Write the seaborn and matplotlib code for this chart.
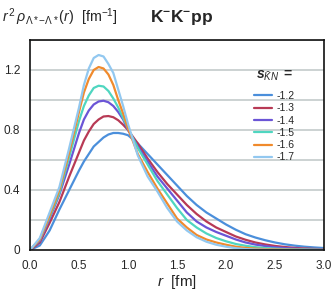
import numpy as np
import pandas as pd
import matplotlib
matplotlib.use("Agg")
import matplotlib.pyplot as plt
import seaborn as sns

r = [0.0, 0.1, 0.2, 0.3, 0.4, 0.5, 0.55, 0.6, 0.65, 0.7, 0.75, 0.8, 0.85, 0.9, 0.95,
     1.0, 1.1, 1.2, 1.3, 1.4, 1.5, 1.6, 1.7, 1.8, 1.9, 2.0, 2.1, 2.2, 2.3, 2.4, 2.5,
     2.6, 2.7, 2.8, 2.9, 3.0]

s_12 = [0.0, 0.03, 0.13, 0.27, 0.40, 0.53, 0.59, 0.64, 0.69, 0.72, 0.75, 0.77, 0.78, 0.78, 0.775,
        0.765, 0.71, 0.64, 0.57, 0.50, 0.43, 0.36, 0.30, 0.25, 0.21, 0.17, 0.135, 0.105, 0.083, 0.065, 0.05,
        0.038, 0.029, 0.022, 0.017, 0.013]
s_13 = [0.0, 0.05, 0.18, 0.32, 0.49, 0.65, 0.73, 0.79, 0.84, 0.87, 0.89, 0.893, 0.885, 0.865, 0.835,
        0.80, 0.71, 0.61, 0.52, 0.44, 0.37, 0.30, 0.24, 0.19, 0.15, 0.12, 0.09, 0.068, 0.05, 0.037, 0.027,
        0.02, 0.014, 0.01, 0.007, 0.005]
s_14 = [0.0, 0.06, 0.21, 0.37, 0.57, 0.78, 0.87, 0.93, 0.97, 0.99, 0.995, 0.985, 0.96, 0.92, 0.87,
        0.80, 0.69, 0.59, 0.49, 0.41, 0.33, 0.25, 0.19, 0.15, 0.12, 0.095, 0.07, 0.05, 0.036, 0.026, 0.018,
        0.013, 0.009, 0.006, 0.004, 0.003]
s_15 = [0.0, 0.07, 0.22, 0.38, 0.62, 0.86, 0.96, 1.03, 1.08, 1.095, 1.09, 1.06, 1.01, 0.95, 0.88,
        0.81, 0.68, 0.57, 0.46, 0.37, 0.28, 0.20, 0.15, 0.11, 0.08, 0.058, 0.04, 0.028, 0.019, 0.013, 0.009,
        0.006, 0.004, 0.003, 0.002, 0.001]
s_16 = [0.0, 0.07, 0.23, 0.40, 0.65, 0.92, 1.05, 1.14, 1.20, 1.22, 1.21, 1.17, 1.10, 1.00, 0.91,
        0.81, 0.64, 0.52, 0.41, 0.31, 0.21, 0.15, 0.10, 0.07, 0.05, 0.035, 0.022, 0.014, 0.009, 0.006, 0.004,
        0.003, 0.002, 0.001, 0.001, 0.0]
s_17 = [0.0, 0.08, 0.25, 0.42, 0.68, 0.95, 1.10, 1.21, 1.28, 1.30, 1.29, 1.24, 1.18, 1.07, 0.96,
        0.84, 0.63, 0.49, 0.39, 0.28, 0.19, 0.13, 0.085, 0.055, 0.035, 0.022, 0.012, 0.006, 0.003, 0.002, 0.001,
        0.001, 0.0, 0.0, 0.0, 0.0]

labels = ["-1.2", "-1.3", "-1.4", "-1.5", "-1.6", "-1.7"]
colors = ["#4b8fdb", "#b83a55", "#6b55d6", "#4fd6c0", "#f08a2c", "#92c8f0"]

series = [s_12, s_13, s_14, s_15, s_16, s_17]
df = pd.concat([pd.DataFrame({"r": r, "val": s, "s": lab}) for s, lab in zip(series, labels)])

sns.set_theme(style="white")
plt.rcParams['font.family'] = ['Liberation Sans', 'DejaVu Sans']
plt.rcParams['mathtext.fontset'] = 'custom'
plt.rcParams['mathtext.rm'] = 'Liberation Sans'
plt.rcParams['mathtext.it'] = 'Liberation Sans:italic'
plt.rcParams['mathtext.bf'] = 'Liberation Sans:bold'
plt.rcParams['mathtext.bfit'] = 'Liberation Sans:bold:italic'

fig = plt.figure(figsize=(3.32, 2.94), dpi=100)
ax = fig.add_axes([0.0904, 0.1497, 0.8856, 0.7143])

# horizontal grid every 0.2
for g in np.arange(0.2, 1.41, 0.2):
    ax.axhline(g, color="#c3cbcb", lw=1.2, zorder=0)

sns.lineplot(data=df, x="r", y="val", hue="s", palette=dict(zip(labels, colors)),
             lw=1.6, ax=ax, legend=False)

ax.set_xlim(0, 3.0)
ax.set_ylim(0, 1.4)
ax.set_xticks([0, 0.5, 1.0, 1.5, 2.0, 2.5, 3.0])
ax.set_xticklabels(["0.0", "0.5", "1.0", "1.5", "2.0", "2.5", "3.0"])
ax.set_yticks([0, 0.4, 0.8, 1.2])
ax.set_yticklabels(["0", "0.4", "0.8", "1.2"])
ax.tick_params(axis="x", length=3, width=0.8, color="#888888", labelsize=8.5, pad=4)
ax.tick_params(axis="y", length=0, labelsize=8.5, pad=7)
for sp in ax.spines.values():
    sp.set_color("#111111")
    sp.set_linewidth(1.2)

ax.set_xlabel(r"$r$  [fm]", fontsize=11, labelpad=1)
ax.set_ylabel("")

fig.text(0.005, 0.94, r"$r^{\,2}\,\rho_{\Lambda*\mathrm{-}\Lambda*}(r)$  [fm$^{-1}$]",
         fontsize=10.3, ha="left", va="center")
fig.text(0.452, 0.94, r"$\mathbf{K^{-}K^{-}pp}$", fontsize=12.5, ha="left", va="center")

handles = [plt.Line2D([], [], color=c, lw=1.6) for c in colors]
leg = ax.legend(handles, labels, title=r"$\mathbfit{s}_{\bar{K}N}$ $\mathbf{=}$", loc="upper right",
                bbox_to_anchor=(0.915, 0.89), frameon=False, fontsize=7.5,
                title_fontsize=10, handlelength=1.7, handletextpad=0.5,
                labelspacing=0.22, borderaxespad=0)
leg._legend_box.sep = 6

fig.savefig("out.png", dpi=100)
